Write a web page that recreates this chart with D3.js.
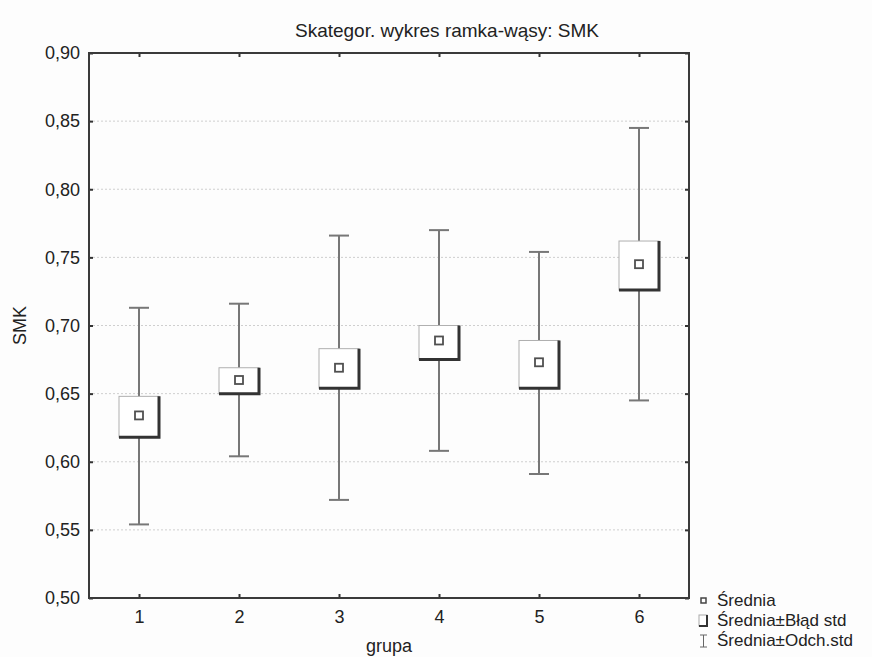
<!DOCTYPE html>
<html lang="pl">
<head>
    <meta charset="UTF-8">
    <title>Skategor. wykres ramka-wąsy: SMK</title>
    <script src="https://cdn.jsdelivr.net/npm/d3@7"></script>
    <style>
        body{ margin:0; background:#fdfdfd; }
        text{
            font-family: "Liberation Sans", Arial, sans-serif;
            fill: #222;
            font-size: 18px;
        }
    </style>
</head>
<body>
<div class="container"></div>
<script>
    ////////////////////////////////////////////////////////////////
    /*                      Data                                  */
    ////////////////////////////////////////////////////////////////
    const groups  = ["1","2","3","4","5","6"]
    const means   = [0.634, 0.660, 0.669, 0.689, 0.673, 0.745]
    const seLow   = [0.618, 0.650, 0.654, 0.675, 0.654, 0.726]
    const seHigh  = [0.648, 0.669, 0.683, 0.700, 0.689, 0.762]
    const sdLow   = [0.554, 0.604, 0.572, 0.608, 0.591, 0.645]
    const sdHigh  = [0.713, 0.716, 0.766, 0.770, 0.754, 0.845]
    const yTicks  = [0.50, 0.55, 0.60, 0.65, 0.70, 0.75, 0.80, 0.85, 0.90]
    const legendItems = ["Średnia", "Średnia±Błąd std", "Średnia±Odch.std"]

    ////////////////////////////////////////////////////////////////
    /*          Constants and Visualization Containers           */
    ////////////////////////////////////////////////////////////////
    const W = 872, H = 657
    const margin = {left: 89, right: 183, top: 53, bottom: 59}
    const boxW = 40, capW = 20, markSize = 8

    const svg = d3.select('.container')
        .append("svg")
        .attr("width", W)
        .attr("height", H)
    const fmt = d3.formatLocale({decimal: ",", thousands: " ", grouping: [3], currency: ["", ""]}).format(".2f")

    const x = d3.scalePoint()
        .domain(groups)
        .range([margin.left, W - margin.right])
        .padding(0.5)
    const y = d3.scaleLinear()
        .domain([0.5, 0.9])
        .range([H - margin.bottom, margin.top])

    const rows = groups.map((g, i) => ({
        g, mean: means[i], seLow: seLow[i], seHigh: seHigh[i], sdLow: sdLow[i], sdHigh: sdHigh[i]
    }))

    // gridlines (horizontal, dotted)
    svg.append("g")
        .selectAll("line")
        .data(yTicks.slice(1, -1))
        .join("line")
        .attr("x1", margin.left).attr("x2", W - margin.right)
        .attr("y1", d => y(d)).attr("y2", d => y(d))
        .attr("stroke", "#cfcfcf")
        .attr("stroke-dasharray", "2,2")

    // axes with inward ticks on all four sides
    const axisStyle = g => {
        g.select(".domain").remove()
        g.selectAll(".tick line").attr("stroke", "#333").attr("stroke-width", 2)
        g.selectAll(".tick text").attr("fill", "#222").style("font-size", "18px")
            .style("font-family", '"Liberation Sans", Arial, sans-serif')
    }
    svg.append("g")
        .attr("transform", `translate(${margin.left},0)`)
        .call(d3.axisLeft(y).tickValues(yTicks).tickFormat(fmt).tickSizeInner(-4).tickSizeOuter(0).tickPadding(9))
        .call(axisStyle)
    svg.append("g")
        .attr("transform", `translate(${W - margin.right},0)`)
        .call(d3.axisRight(y).tickValues(yTicks).tickFormat("").tickSizeInner(-4).tickSizeOuter(0))
        .call(axisStyle)
    svg.append("g")
        .attr("transform", `translate(0,${H - margin.bottom})`)
        .call(d3.axisBottom(x).tickSizeInner(-4).tickSizeOuter(0).tickPadding(12))
        .call(axisStyle)
    svg.append("g")
        .attr("transform", `translate(0,${margin.top})`)
        .call(d3.axisTop(x).tickFormat("").tickSizeInner(-4).tickSizeOuter(0))
        .call(axisStyle)

    // frame
    svg.append("rect")
        .attr("x", margin.left).attr("y", margin.top)
        .attr("width", W - margin.left - margin.right)
        .attr("height", H - margin.top - margin.bottom)
        .attr("fill", "none")
        .attr("stroke", "#3a3a3a")
        .attr("stroke-width", 2)

    ////////////////////////////////////////////////////////////////
    /*                    Box-whisker marks                       */
    ////////////////////////////////////////////////////////////////
    const marks = svg.append("g")
        .selectAll("g")
        .data(rows)
        .join("g")
        .attr("transform", d => `translate(${x(d.g)},0)`)

    // whisker (sd)
    marks.append("line")
        .attr("y1", d => y(d.sdLow)).attr("y2", d => y(d.sdHigh))
        .attr("stroke", "#777").attr("stroke-width", 2)
    marks.selectAll(".cap")
        .data(d => [d.sdLow, d.sdHigh])
        .join("line")
        .attr("class", "cap")
        .attr("x1", -capW / 2).attr("x2", capW / 2)
        .attr("y1", v => y(v)).attr("y2", v => y(v))
        .attr("stroke", "#777").attr("stroke-width", 2)

    // box (se)
    marks.append("rect")
        .attr("x", -boxW / 2)
        .attr("y", d => y(d.seHigh))
        .attr("width", boxW)
        .attr("height", d => y(d.seLow) - y(d.seHigh))
        .attr("fill", "#fff")
        .attr("stroke", "#b0b0b0")
        .attr("stroke-width", 1)
    // shadow on right and bottom
    marks.append("path")
        .attr("d", d => `M${boxW / 2},${y(d.seHigh)}V${y(d.seLow)}H${-boxW / 2}`)
        .attr("fill", "none")
        .attr("stroke", "#333")
        .attr("stroke-width", 3)

    // mean marker
    marks.append("rect")
        .attr("x", -markSize / 2)
        .attr("y", d => y(d.mean) - markSize / 2)
        .attr("width", markSize).attr("height", markSize)
        .attr("fill", "#fff")
        .attr("stroke", "#505050")
        .attr("stroke-width", 1.8)

    ////////////////////////////////////////////////////////////////
    /*                    Titles and legend                       */
    ////////////////////////////////////////////////////////////////
    svg.append("text")
        .attr("x", 447).attr("y", 37)
        .attr("text-anchor", "middle")
        .style("font-size", "19px")
        .text("Skategor. wykres ramka-wąsy: SMK")
    svg.append("text")
        .attr("x", (margin.left + W - margin.right) / 2).attr("y", 652)
        .attr("text-anchor", "middle")
        .text("grupa")
    svg.append("text")
        .attr("transform", `translate(26,${(margin.top + H - margin.bottom) / 2})rotate(-90)`)
        .attr("text-anchor", "middle")
        .text("SMK")

    const legend = svg.append("g").attr("transform", "translate(698,0)")
    const legendY = [601, 621, 641]
    legend.selectAll("text")
        .data(legendItems)
        .join("text")
        .attr("x", 19)
        .attr("y", (d, i) => legendY[i] + 5)
        .style("font-size", "17px")
        .text(d => d)
    // icon: mean
    legend.append("rect")
        .attr("x", 3).attr("y", legendY[0] - 3)
        .attr("width", 5).attr("height", 5)
        .attr("fill", "#fff").attr("stroke", "#444").attr("stroke-width", 1.5)
    // icon: se box
    legend.append("rect")
        .attr("x", 1).attr("y", legendY[1] - 6)
        .attr("width", 8).attr("height", 11)
        .attr("fill", "#fff").attr("stroke", "#aaa").attr("stroke-width", 1)
    legend.append("path")
        .attr("d", `M9,${legendY[1] - 6}V${legendY[1] + 5}H1`)
        .attr("fill", "none").attr("stroke", "#333").attr("stroke-width", 2)
    // icon: whisker
    legend.append("path")
        .attr("d", `M2,${legendY[2] - 6}H9M5.5,${legendY[2] - 6}V${legendY[2] + 6}M2,${legendY[2] + 6}H9`)
        .attr("fill", "none").attr("stroke", "#666").attr("stroke-width", 1)
</script>
</body>
</html>
